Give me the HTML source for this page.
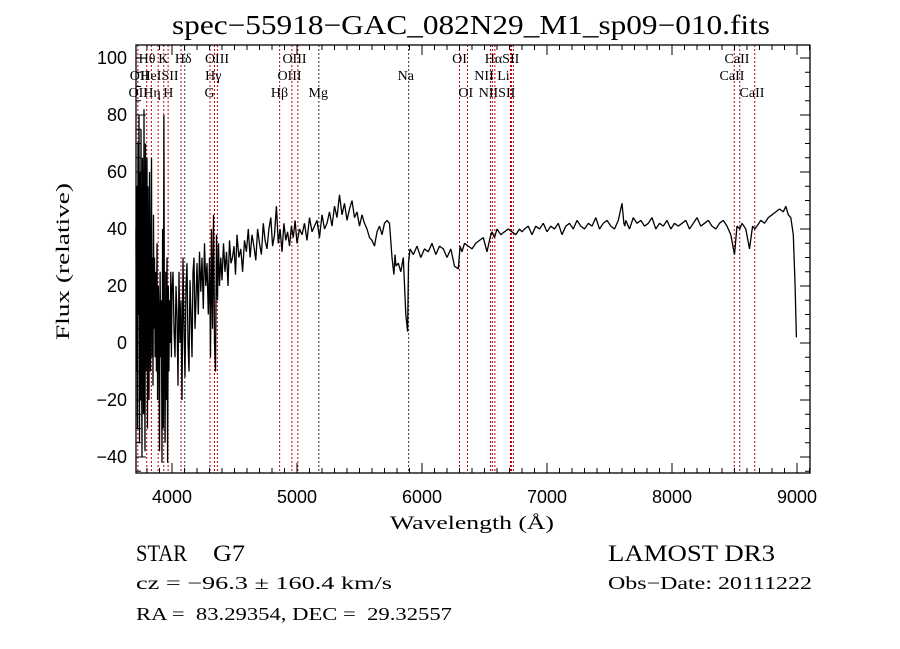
<!DOCTYPE html>
<html><head><meta charset="utf-8"><style>
html,body{margin:0;padding:0;background:#fff;}
svg{display:block;font-family:"Liberation Serif",serif;}
</style></head><body>
<svg id="chart" width="900" height="649" viewBox="0 0 900 649" xmlns="http://www.w3.org/2000/svg">
<rect width="900" height="649" fill="#fff"/>
<text x="172" y="34" font-size="27" textLength="598" lengthAdjust="spacingAndGlyphs">spec−55918−GAC_082N29_M1_sp09−010.fits</text>
<g id="lines"></g>
<g id="linelabels"></g>
<path id="spec" fill="none" stroke="#000" stroke-width="1.3" stroke-linejoin="bevel"/>
<g id="ticks"></g>
<rect x="136" y="45" width="674" height="428" fill="none" stroke="#000" stroke-width="1.3"/>
<g id="xlabels"></g>
<g id="ylabels"></g>
<text x="390" y="529" font-size="19" textLength="164" lengthAdjust="spacingAndGlyphs">Wavelength (Å)</text>
<text transform="translate(69,340) rotate(-90)" font-size="19" textLength="157" lengthAdjust="spacingAndGlyphs">Flux (relative)</text>
<text x="136" y="561" font-size="23" textLength="51" lengthAdjust="spacingAndGlyphs">STAR</text>
<text x="213" y="561" font-size="23" textLength="32" lengthAdjust="spacingAndGlyphs">G7</text>
<text x="608" y="561" font-size="23" textLength="167" lengthAdjust="spacingAndGlyphs">LAMOST DR3</text>
<text x="136" y="589" font-size="18" textLength="256" lengthAdjust="spacingAndGlyphs">cz = −96.3 ± 160.4 km/s</text>
<text x="608" y="589" font-size="18" textLength="204" lengthAdjust="spacingAndGlyphs">Obs−Date: 20111222</text>
<text x="136" y="620" font-size="18" textLength="316" lengthAdjust="spacingAndGlyphs" xml:space="preserve">RA =  83.29354, DEC =  29.32557</text>
</svg>
<script>
const wave = [3712,3716,3720,3724,3728,3732,3736,3740,3744,3748,3752,3756,3760,3764,3768,3772,3776,3780,3784,3788,3792,3796,3800,3804,3808,3812,3816,3820,3824,3828,3832,3836,3840,3844,3848,3852,3856,3860,3865,3870,3875,3880,3885,3890,3895,3900,3905,3910,3915,3920,3925,3930,3935,3940,3945,3950,3955,3960,3965,3970,3975,3980,3985,3990,3995,4000,4008,4016,4024,4032,4040,4048,4056,4064,4072,4080,4088,4096,4104,4112,4120,4128,4136,4144,4152,4160,4168,4176,4184,4192,4200,4210,4220,4230,4240,4250,4260,4270,4280,4290,4300,4308,4316,4324,4332,4340,4348,4356,4364,4372,4380,4390,4400,4412,4424,4436,4448,4460,4472,4484,4496,4508,4520,4535,4550,4565,4580,4595,4610,4625,4640,4655,4670,4685,4700,4715,4730,4745,4760,4775,4790,4805,4820,4835,4850,4865,4880,4895,4910,4925,4940,4955,4970,4985,5000,5020,5040,5060,5080,5100,5120,5140,5160,5180,5200,5220,5240,5260,5280,5300,5320,5340,5360,5380,5400,5420,5440,5460,5480,5500,5520,5540,5560,5580,5600,5620,5640,5660,5680,5700,5720,5740,5760,5775,5784,5792,5810,5830,5850,5870,5885,5892,5897,5905,5930,5960,5990,6020,6050,6080,6110,6140,6170,6200,6230,6260,6290,6305,6320,6340,6370,6400,6430,6460,6490,6520,6545,6560,6580,6600,6630,6660,6690,6720,6750,6780,6800,6820,6850,6880,6910,6940,6970,7000,7030,7060,7090,7120,7150,7180,7210,7240,7270,7300,7330,7360,7390,7420,7450,7480,7510,7540,7570,7600,7615,7622,7630,7660,7690,7720,7750,7780,7810,7840,7870,7900,7930,7960,7990,8020,8050,8080,8110,8140,8170,8200,8230,8260,8290,8320,8350,8380,8410,8440,8470,8500,8520,8542,8560,8590,8620,8645,8662,8680,8710,8740,8770,8800,8830,8860,8890,8910,8930,8950,8970,8985,8995,9002,9006];
const flux = [40,-10,55,-30,70,10,80,-35,60,-20,75,0,-40,65,20,-25,82,5,-38,70,-10,50,65,-30,55,0,-20,60,10,-10,40,65,-5,30,-15,45,5,30,-5,25,-10,35,-20,20,10,-38,25,-5,15,-42,40,-30,80,-10,-35,25,-20,30,-42,20,-10,15,0,25,-5,18,25,5,-5,20,10,-15,25,0,15,-20,30,5,-12,20,28,0,-10,22,10,-5,25,30,5,15,28,10,32,18,30,12,35,20,28,10,30,-5,40,5,45,0,-10,38,15,35,20,30,22,35,25,32,20,36,28,30,34,24,38,30,33,25,36,32,40,30,38,34,29,40,35,31,42,36,33,40,44,34,38,48,35,40,32,42,36,39,34,41,37,43,35,40,38,42,36,44,39,41,43,37,45,40,42,46,41,48,44,52,45,49,43,47,50,44,46,41,45,42,40,37,36,34,39,41,38,42,43,42,30,24,31,27,28,25,30,10,4,
28,30,33,31,34,30,33,32,35,31,34,33,30,33,
27,26,34,32,35,34,33,35,36,37,32,37,39,37,40,38,39,40,39,38,40,39,40,41,38,41,40,
42,39,41,40,42,38,41,42,40,43,41,40,42,41,44,40,42,43,41,40,
43,49,42,
41,43,40,44,42,43,41,42,44,40,42,41,43,40,42,41,42,43,40,42,44,41,42,43,41,40,42,43,41,
38,31,41,40,42,40,33,41,
40,41,43,42,44,45,46,
47,46,48,45,44,38,20,2];
const lineWave = [3727,3798,3835,3889,3934,3969,4072,4102,4304,4340,4363,4861,4959,5007,5175,5893,6300,6364,6548,6563,6583,6708,6716,6731,8498,8542,8662];
const lineDark = [0,0,0,0,0,0,0,1,0,0,0,0,0,0,1,1,0,0,0,0,0,0,0,0,0,0,0];
const labelText = ["Hθ","K","Hδ","OIII","OIII","OI","HαSII","CaII","OII","HeISII","Hγ","OIII","Na","NII Li","CaII","OII","Hη","H","G","Hβ","Mg","OI","NIISII","CaII"];
const labelWave = [3800,3930,4090,4360,4980,6300,6640,8520,3740,3900,4330,4940,5870,6560,8480,3730,3840,3970,4300,4860,5170,6350,6600,8640];
const labelRow = [0,0,0,0,0,0,0,0,1,1,1,1,1,1,1,2,2,2,2,2,2,2,2,2];
const xTicks = [4000,5000,6000,7000,8000,9000];
const yTicks = [-40,-20,0,20,40,60,80,100];

const NS="http://www.w3.org/2000/svg";
const L=136,R=810,T=45,B=473;
const xS=l=>172+(l-4000)*0.125;
const yS=f=>343-f*2.85;
const clampY=y=>Math.max(T,Math.min(B,y));
function mk(tag,attrs,parent){const e=document.createElementNS(NS,tag);for(const k in attrs)e.setAttribute(k,attrs[k]);parent.appendChild(e);return e;}

let d="";
const n=Math.min(wave.length,flux.length);
for(let i=0;i<n;i++){d+=(i?"L":"M")+xS(wave[i]).toFixed(1)+" "+clampY(yS(flux[i])).toFixed(1);}
document.getElementById("spec").setAttribute("d",d);

const lg=document.getElementById("lines");
lineWave.forEach((w,i)=>{
  const ln=mk("line",{x1:xS(w),x2:xS(w),y1:T,y2:B,stroke:lineDark[i]?"#333":"#c00000","stroke-width":1,"stroke-dasharray":"2,2"},lg);
  
  
});
const lbg=document.getElementById("linelabels");
labelText.forEach((t,i)=>{
  const tx=mk("text",{x:xS(labelWave[i]),y:63+labelRow[i]*17,"font-size":14,"text-anchor":"middle"},lbg);
  tx.textContent=t;
  
  
});

const tg=document.getElementById("ticks");
for(let w=3800;w<=9100;w+=100){
  const major=w%1000===0, len=major?10:5;
  const a=mk("line",{x1:xS(w),x2:xS(w),y1:B,y2:B-len,stroke:"#000"},tg);
  
  
  const b=mk("line",{x1:xS(w),x2:xS(w),y1:T,y2:T+len,stroke:"#000"},tg);
  
  
}
for(let f=-45;f<=100;f+=5){
  const major=f%20===0, len=major?10:5;
  const a=mk("line",{x1:L,x2:L+len,y1:yS(f),y2:yS(f),stroke:"#000"},tg);
  
  
  const b=mk("line",{x1:R,x2:R-len,y1:yS(f),y2:yS(f),stroke:"#000"},tg);
  
  
}
const xl=document.getElementById("xlabels");
xTicks.forEach(v=>{
  const t=mk("text",{x:xS(v),y:503,"font-size":18,"text-anchor":"middle","font-family":"Liberation Sans, sans-serif",textLength:40,lengthAdjust:"spacingAndGlyphs"},xl);
  t.textContent=v;
  
  
});
const yl=document.getElementById("ylabels");
yTicks.forEach(v=>{
  const s=String(v).replace("-","−");
  const t=mk("text",{x:127,y:yS(v)+6,"font-size":18,"text-anchor":"end","font-family":"Liberation Sans, sans-serif"},yl);
  t.textContent=s;
  
  
});
</script>
</body></html>
